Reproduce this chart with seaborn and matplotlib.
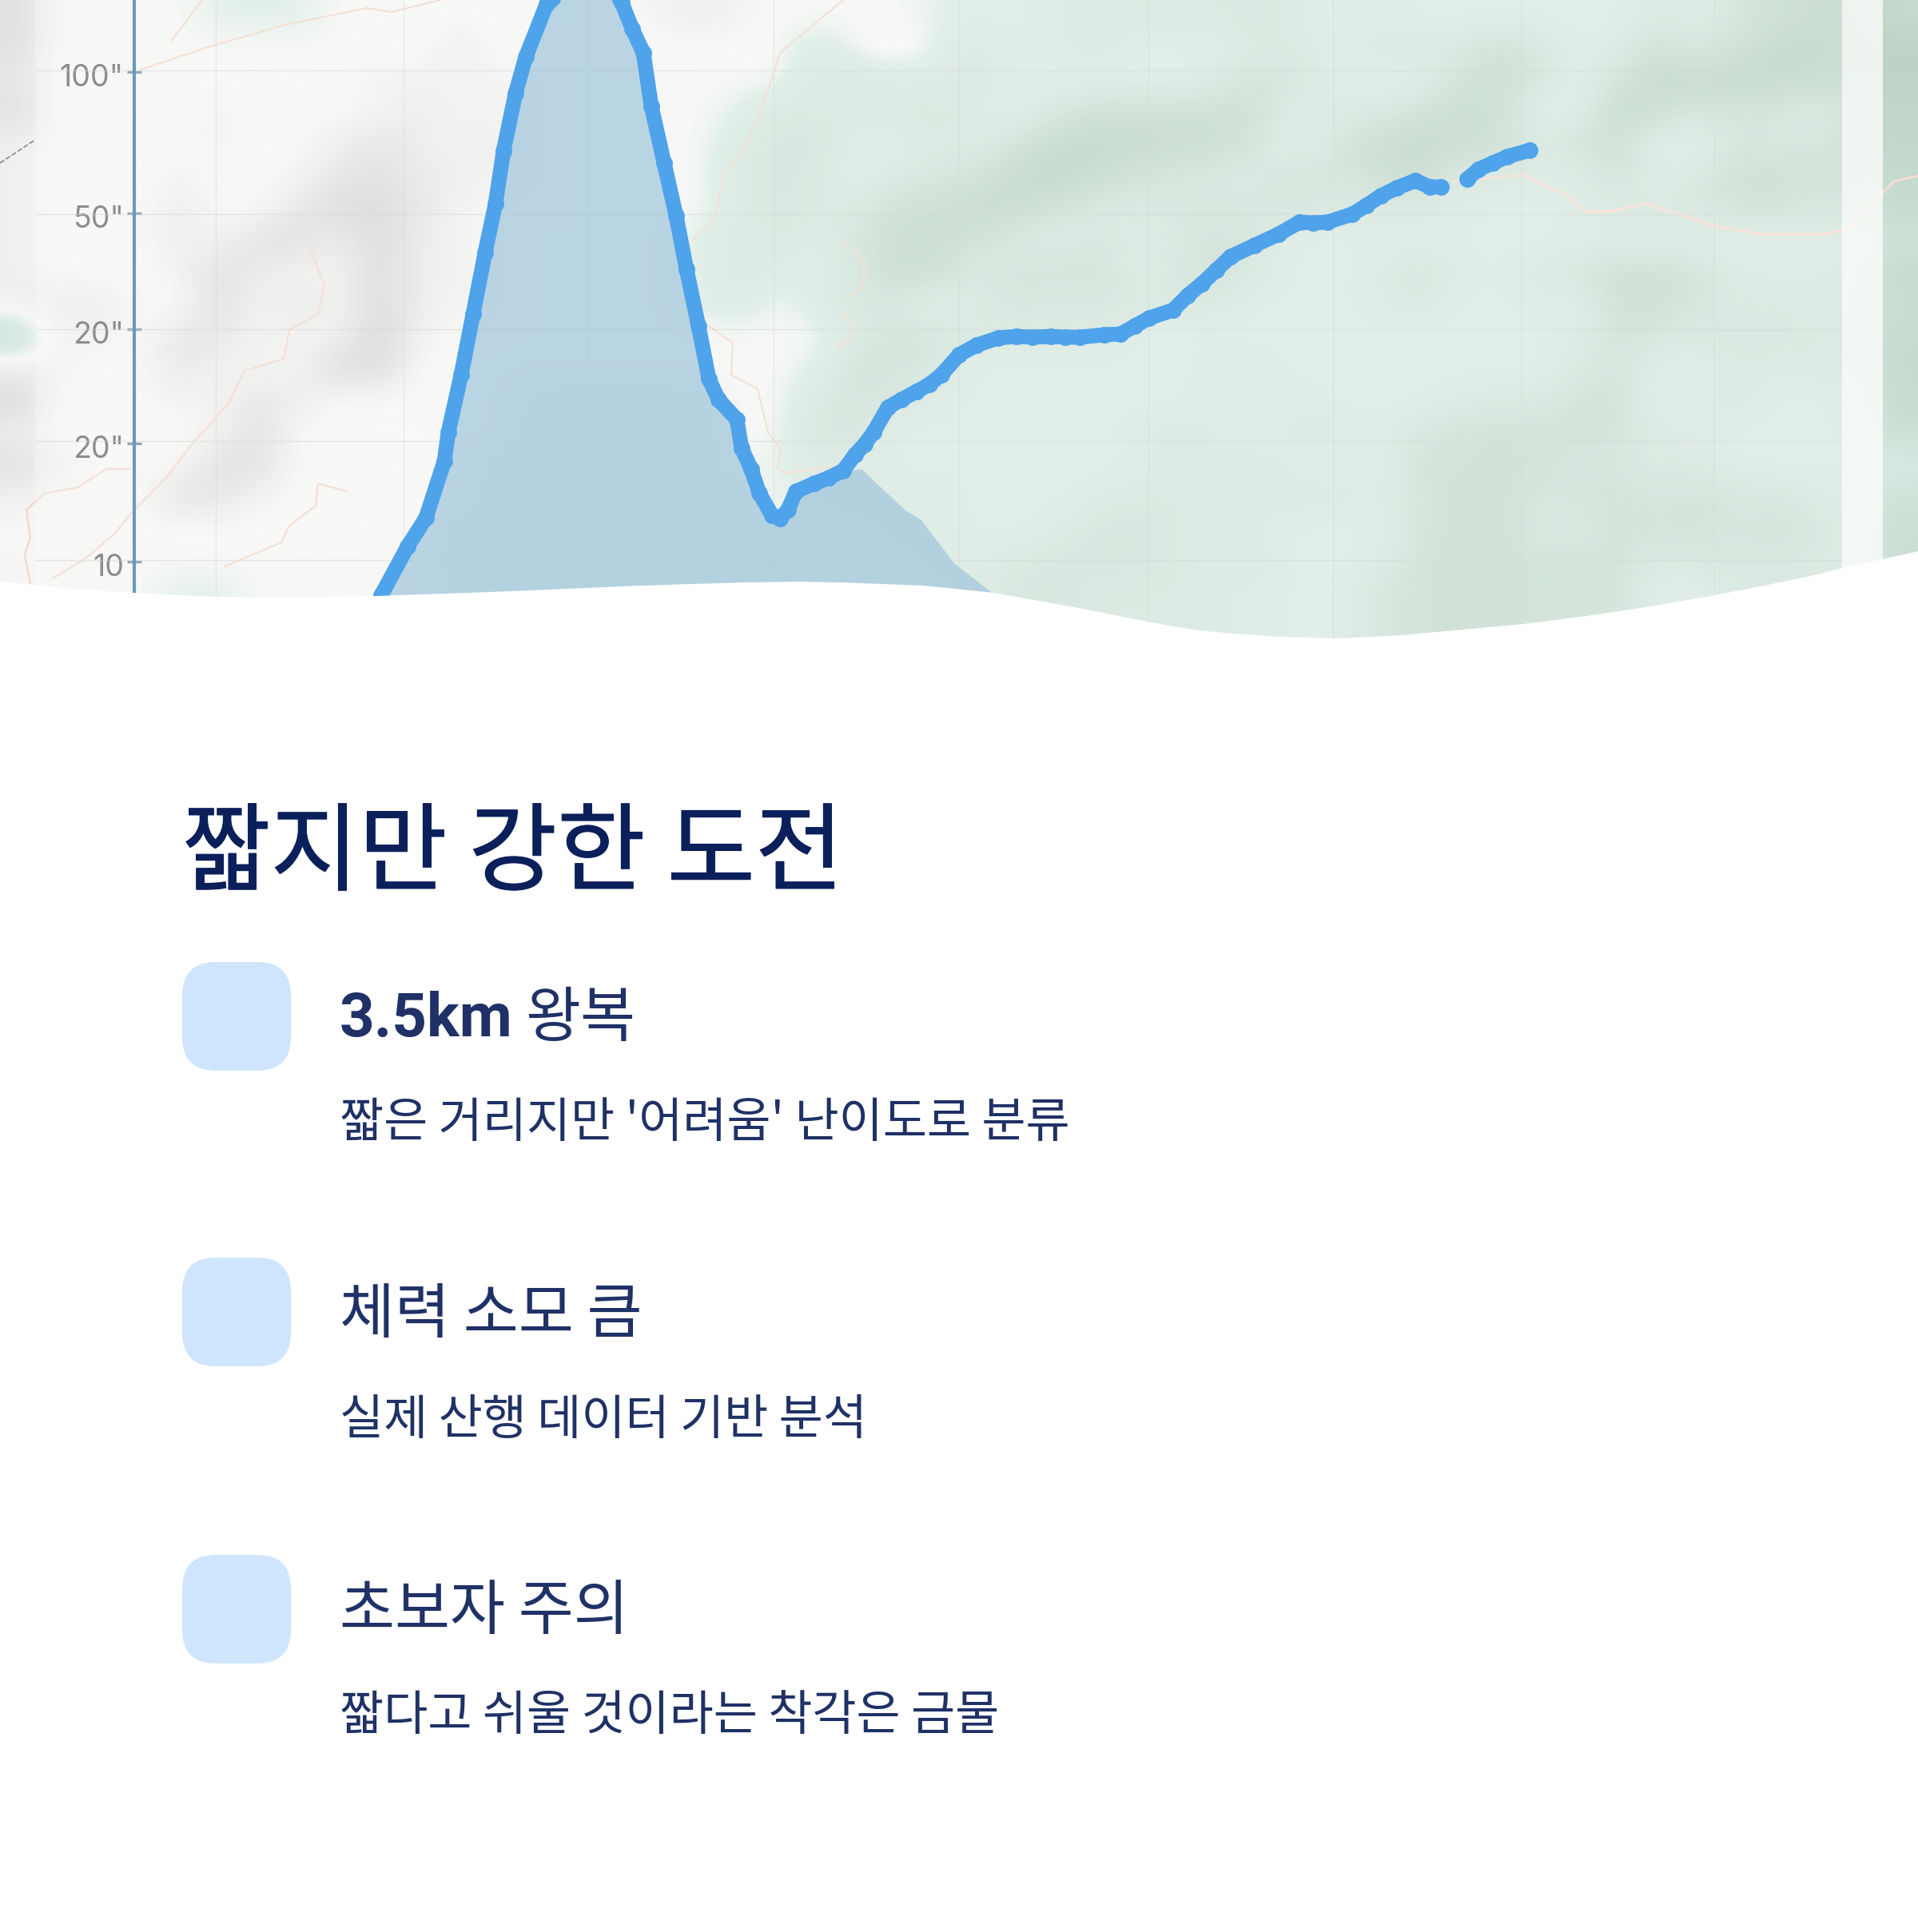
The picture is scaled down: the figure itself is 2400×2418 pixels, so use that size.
import matplotlib
matplotlib.use('Agg')
import matplotlib.pyplot as plt
import matplotlib.patheffects as pe
import numpy as np
import seaborn as sns
from matplotlib.colors import LinearSegmentedColormap
from matplotlib.patches import FancyBboxPatch
from matplotlib.transforms import ScaledTranslation

# terrain tone: negative = grey shade, positive = green shade
terrain_left = [
    [-3, 0, 0, 0, 0, 1, 1, 1, 0, 0, 0, 0, 0, 0, 0, 0],
    [-3, 0, 0, 0, 0, 0, 0, 0, 0, 0, 0, -2, 0, 0, 0, 0],
    [-2, 0, 0, 0, 0, 0, 0, 0, 0, -1, -1, -1, -1, 0, 0, 0],
    [-3, 0, 0, 0, 0, -1, 0, 0, 0, -1, -2, -1, -1, 0, 0, 0],
    [-1, 0, 0, 0, 0, -1, 0, 0, -2, -3, -2, -1, -2, 0, 0, 0],
    [-1, 0, 0, 0, -1, 0, 0, -1, -3, -4, -2, -2, -1, 0, 0, 0],
    [-1, 0, 0, 0, -2, 0, 0, -3, -5, -5, -3, -1, 0, 0, 0, 0],
    [-1, 0, 0, 0, -2, -1, -4, -4, -2, -5, -2, -1, 0, 0, 0, 0],
    [-1, 0, 0, 0, -1, -4, -2, -1, -1, -5, -2, -1, 0, 0, 0, 0],
    [-1, -2, -2, 0, 0, -4, -1, -3, -1, -5, -2, -1, 0, 0, 0, 0],
    [3, -1, -1, 0, -3, -3, -1, -1, -1, -6, -1, 0, 0, 0, 0, 0],
    [-1, -1, 0, 0, -3, -1, -1, -1, -5, -5, 0, 0, 0, 0, 0, 0],
    [-4, 0, 0, 0, -1, -1, -3, -2, 0, 0, 0, 0, 0, 1, 1, 1],
    [-1, 0, 0, 0, 0, -1, -4, 0, 0, 0, 0, 0, 0, 1, 1, 1],
    [-3, -1, 0, 0, 0, -4, -4, 0, 0, 0, 0, 0, 1, 1, 1, 1],
    [-1, 0, 0, 0, -4, -3, -1, 0, 0, -1, 0, 0, 1, 1, 1, 1],
    [0, 0, 0, 0, 0, 0, 0, 0, 0, 0, 0, 1, 1, 1, 1, 1],
    [0, 0, 0, 0, 0, 0, 0, 0, 0, 0, 0, 1, 1, 1, 1, 1],
    [0, 0, 0, 0, 1, 1, 0, 0, 0, 0, 0, 1, 1, 1, 1, 1],
    [0, 0, 0, 0, 1, 1, 0, 0, 0, 0, 0, 1, 1, 1, 1, 1],
]
terrain_mid = [
    [-1, -2, -1, 0, 0, 0, 0, 1, 1, 1, 2, 3, 3, 3, 3, 4],
    [0, 0, 0, 0, 2, 0, -1, 1, 3, 1, 2, 3, 1, 1, 1, 3],
    [0, 0, 0, 0, 3, 3, 2, 2, 3, 1, 1, 1, 1, 1, 3, 5],
    [0, 0, 1, 3, 3, 3, 3, 4, 2, 1, 4, 6, 6, 6, 6, 6],
    [0, 0, 2, 4, 4, 1, 1, 3, 2, 5, 8, 8, 8, 7, 7, 4],
    [0, 0, 3, 4, 3, 1, 3, 4, 5, 8, 9, 7, 5, 4, 3, 3],
    [0, 0, 2, 4, 3, 3, 6, 6, 8, 7, 5, 3, 3, 4, 4, 4],
    [0, 1, 3, 3, 2, 4, 7, 7, 5, 3, 2, 4, 2, 3, 5, 3],
    [0, 1, 3, 2, 1, 4, 7, 6, 3, 5, 5, 5, 2, 4, 5, 3],
    [0, 1, 2, 0, 2, 4, 3, 1, 3, 4, 3, 4, 3, 3, 3, 1],
    [0, 0, 0, 0, 0, 3, 5, 4, 3, 3, 3, 3, 1, 1, 1, 1],
    [0, 0, 0, 0, 1, 5, 5, 3, 1, 1, 1, 1, 1, 1, 2, 2],
    [1, 1, 0, 0, 3, 5, 3, 2, 1, 1, 1, 1, 1, 1, 2, 1],
    [1, 1, 0, 0, 4, 4, 1, 1, 1, 1, 1, 1, 2, 3, 2, 1],
    [1, 1, 0, 1, 2, 2, 1, 1, 1, 1, 1, 1, 1, 3, 2, 3],
    [1, 1, 1, 0, 2, 2, 2, 2, 1, 1, 1, 2, 3, 3, 2, 3],
    [1, 1, 1, 1, 1, 1, 2, 2, 1, 1, 2, 4, 4, 3, 2, 2],
    [1, 1, 1, 1, 1, 1, 1, 2, 2, 3, 4, 4, 4, 3, 2, 3],
    [1, 1, 1, 1, 1, 1, 1, 1, 2, 4, 4, 3, 3, 3, 2, 2],
    [1, 1, 1, 1, 1, 1, 1, 1, 2, 4, 4, 3, 3, 3, 2, 2],
]
terrain_right = [
    [2, 1, 2, 1, 1, 1, 1, 1, 1, 3, 2, 4, 6, 7, 7, 5],
    [3, 1, 3, 3, 3, 6, 4, 1, 2, 6, 3, 6, 8, 8, 7, 7],
    [4, 1, 1, 1, 5, 7, 4, 1, 5, 8, 8, 8, 8, 7, 7, 7],
    [1, 3, 3, 5, 7, 6, 1, 1, 8, 6, 4, 5, 4, 2, 6, 6],
    [1, 4, 7, 8, 7, 6, 3, 5, 6, 1, 1, 4, 4, 4, 6, 6],
    [5, 4, 6, 7, 3, 3, 2, 2, 5, 2, 3, 6, 6, 5, 5, 5],
    [4, 3, 3, 3, 2, 1, 1, 2, 3, 3, 4, 5, 5, 4, 4, 5],
    [1, 1, 1, 1, 1, 1, 1, 1, 2, 1, 1, 1, 1, 1, 2, 3],
    [1, 1, 2, 5, 2, 1, 3, 4, 6, 6, 5, 2, 2, 2, 3, 5],
    [1, 1, 2, 3, 1, 1, 2, 1, 6, 6, 4, 3, 3, 2, 3, 4],
    [1, 1, 1, 1, 1, 1, 1, 2, 5, 4, 3, 4, 4, 3, 3, 5],
    [1, 1, 1, 1, 1, 1, 1, 3, 5, 1, 1, 3, 2, 3, 3, 5],
    [2, 1, 1, 1, 2, 3, 3, 5, 5, 1, 2, 3, 1, 1, 2, 5],
    [3, 3, 1, 4, 5, 5, 5, 5, 5, 2, 2, 1, 1, 1, 2, 4],
    [1, 1, 1, 5, 5, 6, 5, 4, 4, 3, 3, 1, 1, 1, 1, 1],
    [3, 3, 2, 4, 6, 6, 4, 5, 5, 4, 5, 4, 4, 2, 2, 3],
    [1, 1, 1, 4, 6, 6, 3, 3, 5, 5, 5, 4, 5, 4, 2, 4],
    [1, 1, 2, 5, 6, 6, 5, 5, 5, 3, 4, 4, 4, 3, 2, 4],
    [1, 1, 4, 5, 6, 6, 5, 5, 5, 1, 1, 3, 3, 3, 2, 4],
    [1, 1, 4, 5, 6, 6, 5, 5, 5, 1, 1, 3, 3, 3, 2, 4],
]

# faint roads on the map
road_a_x = [176, 260, 357, 459, 490, 551]
road_a_y = [87, 59, 31, 10, 15, 0]
road_a2_x = [214, 230, 253]
road_a2_y = [51, 31, 0]
road_b_x = [1055, 976, 963, 935, 905, 894, 866]
road_b_y = [0, 66, 107, 179, 219, 276, 301]
road_c_x = [1058, 1081, 1081, 1058]
road_c_y = [304, 327, 357, 375]
road_d_x = [1052, 1068, 1065, 1047]
road_d_y = [390, 406, 421, 436]
road_e_x = [887, 917, 915, 948, 961, 976, 973, 984, 1045]
road_e_y = [408, 429, 469, 487, 541, 561, 587, 592, 584]
road_f_x = [388, 406, 398, 362, 355, 306, 286, 240, 209, 168, 143, 107, 66]
road_f_y = [311, 357, 393, 413, 449, 464, 505, 556, 597, 638, 668, 699, 724]
road_g_x = [434, 398, 395, 362, 352, 281]
road_g_y = [615, 605, 633, 658, 679, 709]
road_h_x = [163, 133, 97, 56, 33, 38, 31, 38]
road_h_y = [587, 587, 610, 617, 638, 673, 694, 730]
road_i_x = [1819, 1906, 1932, 1957, 1985, 2013, 2059, 2146, 2202, 2284, 2314, 2355, 2370, 2400]
road_i_y = [227, 219, 232, 242, 265, 265, 255, 283, 293, 293, 286, 242, 227, 220]
trail_x = [0, 44]
trail_y = [204, 175]

# elevation profile / route
flank_x = [477, 510, 533, 556, 561, 577, 592, 607, 620, 630, 645, 658, 684, 712, 765, 778, 791, 805, 815,
           831, 846, 859, 874, 887, 899, 922, 928, 940, 950, 966, 976, 986, 996]
flank_y = [745, 684, 648, 577, 541, 469, 393, 316, 255, 189, 117, 71, 5, -15, -15, 3, 36, 66, 133,
           204, 270, 337, 408, 474, 500, 525, 561, 587, 617, 645, 649, 638, 615]
route_x = [1019, 1037, 1055, 1070, 1082, 1093, 1111, 1128, 1147, 1163, 1178, 1200, 1222, 1249, 1272, 1292,
           1315, 1333, 1351, 1382, 1402, 1420, 1438, 1468, 1486, 1504, 1522, 1540, 1570, 1600, 1626, 1643, 1661,
           1692, 1710, 1728, 1748, 1771, 1789, 1803]
route_y = [605, 598, 589, 569, 556, 541, 510, 500, 490, 481, 469, 444, 432, 423, 421, 422,
           421, 422, 422, 419, 418, 408, 398, 388, 370, 355, 338, 321, 307, 293, 278, 279, 278,
           268, 257, 245, 235, 226, 234, 234]
route_end_x = [1836, 1850, 1868, 1886, 1914]
route_end_y = [224, 212, 204, 196, 188]

area_x = [477, 510, 533, 556, 577, 592, 607, 620, 630, 645, 658, 684, 712, 765, 778, 791, 805, 815,
          831, 846, 859, 874, 887, 899, 922, 928, 940, 950, 966, 976, 986, 996, 1019, 1055, 1078, 1132, 1152, 1193, 1239]
area_y = [745, 684, 648, 577, 469, 393, 316, 255, 189, 117, 71, 5, -15, -15, 3, 36, 66, 133,
          204, 270, 337, 408, 474, 500, 525, 561, 587, 617, 645, 649, 638, 615, 605, 589, 587, 638, 650, 704, 740]

# white wave closing the map
wave_x = [0, 41, 90, 168, 270, 382, 469, 612, 800, 928, 1000, 1055, 1157, 1244, 1300, 1361, 1410, 1463, 1500, 1544,
          1600, 1674, 1753, 1830, 1906, 1985, 2059, 2135, 2212, 2265, 2314, 2400]
wave_y = [727, 732, 737, 742, 747, 748, 746, 741, 733, 729, 728, 729, 733, 742, 752, 763, 773, 783, 789, 793,
          797, 799, 795, 788, 781, 771, 760, 747, 732, 721, 709, 690]

tick_pos = [90, 267, 412, 555, 703]
tick_labels = ['100"', '50"', '20"', '20"', '10']
grid_h = [88, 268, 412, 552, 701]
grid_v = [270, 505, 735, 968, 1200, 1437, 1668, 1904, 2145]

title = '짧지만 강한 도전'
head_bold = '3.5km'
head_first = '왕복'
heads = ['체력 소모 큼', '초보자 주의']
subs = ["짧은 거리지만 '어려움' 난이도로 분류", '실제 산행 데이터 기반 분석', '짧다고 쉬울 것이라는 착각은 금물']
icon_tops = [1204, 1574, 1946]
head_base = [1297, 1668, 2039]
sub_base = [1423, 1795, 2165]

sns.set_theme(style='white')
plt.rcParams['font.family'] = ['Noto Sans CJK KR', 'DejaVu Sans']

fig = plt.figure(figsize=(24, 24.18), dpi=100)
ax = fig.add_axes([0, 0, 1, 1])
ax.patch.set_alpha(0)

terrain = np.hstack([terrain_left, terrain_mid, terrain_right]) / 9
tone = LinearSegmentedColormap.from_list('tone', [(0, '#b4b4b4'), (0.5, '#f7f7f5'), (0.5556, '#d9ebe3'), (1, '#b4ccbc')])
ax.imshow(terrain, extent=(0, 2400, 800, 0), cmap=tone, vmin=-1, vmax=1,
          interpolation='bicubic', aspect='auto', zorder=0)

for rx, ry in [(road_a_x, road_a_y), (road_a2_x, road_a2_y), (road_b_x, road_b_y), (road_c_x, road_c_y),
               (road_d_x, road_d_y), (road_e_x, road_e_y), (road_f_x, road_f_y), (road_g_x, road_g_y),
               (road_h_x, road_h_y)]:
    ax.plot(rx, ry, color='#f0d8c8', lw=1.6, zorder=1)
ax.plot(road_i_x, road_i_y, color='#f6dccf', lw=2.2, zorder=1)
ax.plot(trail_x, trail_y, color='#888888', lw=1.2, ls='--', zorder=1)

# panel wash over the map
ax.axvspan(44, 2305, color='white', alpha=0.25, lw=0, zorder=1.5)
ax.axvspan(2305, 2356, color='white', alpha=0.75, lw=0, zorder=1.5)

ax.hlines(grid_h, 44, 2305, color='#d4d8d4', lw=1, alpha=0.5, zorder=1.6)
ax.vlines(grid_v, 0, 800, color='#d4d8d4', lw=1, alpha=0.4, zorder=1.6)

ax.fill_between(area_x, area_y, 800, color='#a2c6dc', alpha=0.72, lw=0, zorder=2)

line_kws = dict(sort=False, estimator=None, color='#4fa3ea', linewidth=13.5, ax=ax, marker='o', markersize=15,
                markeredgewidth=0, solid_capstyle='round', solid_joinstyle='round', zorder=5)
sns.lineplot(x=flank_x + route_x, y=flank_y + route_y, **line_kws)
sns.lineplot(x=route_end_x, y=route_end_y, **line_kws)

ax.fill_between(wave_x, wave_y, 2418, color='white', lw=0, zorder=6)

ax.set_xlim(0, 2400)
ax.set_ylim(2418, 0)

for side in ['top', 'right', 'bottom']:
    ax.spines[side].set_visible(False)
ax.spines['left'].set_position(('data', 168))
ax.spines['left'].set_bounds(0, 742)
ax.spines['left'].set_color('#6c97bf')
ax.spines['left'].set_linewidth(3)
ax.set_xticks([])
ax.set_yticks(tick_pos, tick_labels, family='Inter', fontsize=27, color='#666666')
ax.tick_params(axis='y', left=True, direction='inout', length=13, width=2.4, color='#6f8aa0', pad=3)
for lbl in ax.get_yticklabels():
    lbl.set_transform(lbl.get_transform() + ScaledTranslation(0, -3 / 72, fig.dpi_scale_trans))

ax.text(228, 1105, title, fontsize=86.5, color='#0b1f5b', zorder=7,
        path_effects=[pe.withStroke(linewidth=0.8, foreground='#0b1f5b')])

ax.text(425, head_base[0], head_bold, family='Roboto', fontsize=55, color='#1f3166', fontweight='bold', zorder=7)
ax.text(657, head_base[0], head_first, fontsize=54, color='#1f3166', zorder=7)
for h, b in zip(heads, head_base[1:]):
    ax.text(425, b, h, fontsize=54, color='#1f3166', zorder=7)
for s, b in zip(subs, sub_base):
    ax.text(425, b, s, fontsize=43.2, color='#1f3166', zorder=7)

for top in icon_tops:
    ax.add_patch(FancyBboxPatch((228 + 42, top + 42), 136 - 84, 136 - 84, boxstyle='round,pad=42,rounding_size=42',
                                fc='#cfe5fd', ec='none', zorder=7))

fig.savefig('out.png', dpi=100)
